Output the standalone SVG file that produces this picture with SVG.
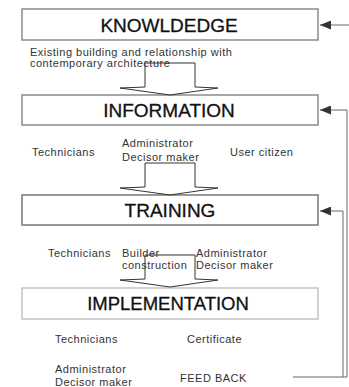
<svg xmlns="http://www.w3.org/2000/svg" width="349" height="387" viewBox="0 0 349 387">
<style>
.box{fill:#fff;stroke:#8a8a8a;stroke-width:1.5}
.title{font-family:"Liberation Sans",Arial,sans-serif;font-size:19px;fill:#111;stroke:#111;stroke-width:0.3;text-anchor:middle}
.lbl{font-family:"Liberation Sans",Arial,sans-serif;font-size:11px;letter-spacing:0.5px;fill:#333}
.blk{fill:none;stroke:#333;stroke-width:1}
.fb{fill:none;stroke:#666;stroke-width:1}
</style>
<defs>
<marker id="ah" markerWidth="11" markerHeight="9" refX="11" refY="4.5" orient="auto" markerUnits="userSpaceOnUse">
<path d="M0,0 L11,4.5 L0,9 Z" fill="#333"/>
</marker>
</defs>
<rect width="349" height="387" fill="#fff"/>
<g id="knowledge">
<rect class="box" x="22" y="9" width="296" height="31"/>
<text class="title" x="169" y="32">KNOWLDEDGE</text>
</g>
<g id="information">
<rect class="box" x="22" y="95" width="296" height="30"/>
<text class="title" x="169" y="117">INFORMATION</text>
</g>
<g id="training">
<rect class="box" x="22" y="195" width="296" height="30" style="stroke:#777"/>
<text class="title" x="170" y="217">TRAINING</text>
</g>
<g id="implementation">
<rect class="box" x="22" y="288" width="296" height="31" style="stroke:#c4c4c4"/>
<text class="title" x="168" y="310" style="font-size:18.5px">IMPLEMENTATION</text>
</g>
<g id="labels">
<text class="lbl" x="30" y="56">Existing building and relationship with</text>
<text class="lbl" x="30" y="67">contemporary architecture</text>
<text class="lbl" x="32" y="156">Technicians</text>
<text class="lbl" x="122" y="147">Administrator</text>
<text class="lbl" x="122" y="161">Decisor maker</text>
<text class="lbl" x="230" y="156">User citizen</text>
<text class="lbl" x="48" y="257">Technicians</text>
<text class="lbl" x="122" y="257">Builder</text>
<text class="lbl" x="122" y="269">construction</text>
<text class="lbl" x="196" y="257">Administrator</text>
<text class="lbl" x="196" y="269">Decisor maker</text>
<text class="lbl" x="55" y="343">Technicians</text>
<text class="lbl" x="187" y="343">Certificate</text>
<text class="lbl" x="55" y="373">Administrator</text>
<text class="lbl" x="55" y="386">Decisor maker</text>
<text class="lbl" x="180" y="382">FEED BACK</text>
</g>
<g id="connectors">
<path class="blk" d="M145,63 H195 V87 L218,88 L170,95 L120,88 L145,87 Z"/>
<path class="blk" d="M145,163 H195 V187 L218,188 L170,195 L120,188 L145,187 Z"/>
<path class="blk" d="M145,255 H195 V279 L218,280 L170,287 L120,280 L145,279 Z"/>
<path class="fb" d="M349,25 H320" marker-end="url(#ah)"/>
<path class="fb" d="M293,377 H347 V110 H320" marker-end="url(#ah)"/>
<path class="fb" d="M343,377 V211 H320" marker-end="url(#ah)"/>
</g>
</svg>
